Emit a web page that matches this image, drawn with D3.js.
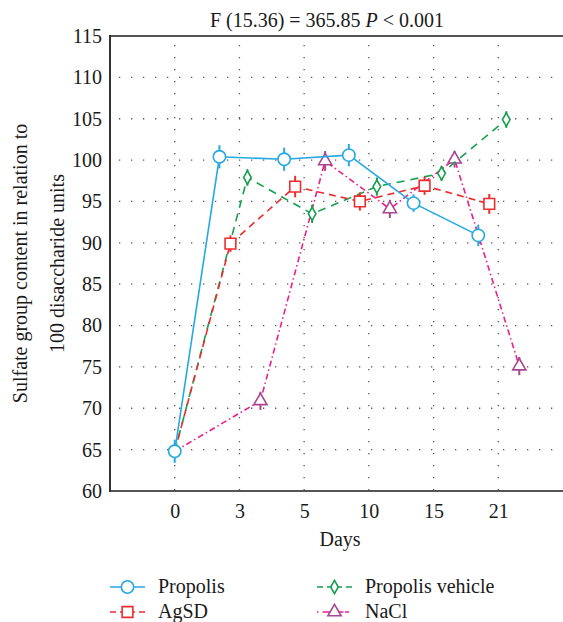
<!DOCTYPE html>
<html>
<head>
<meta charset="utf-8">
<script src="https://cdn.jsdelivr.net/npm/d3@7/dist/d3.min.js"></script>
<style>
  html, body { margin: 0; padding: 0; background: #fff; }
  svg { display: block; }
  text { font-family: "Liberation Serif", "Times New Roman", serif; fill: #1a1a1a; }
</style>
</head>
<body>
<svg id="chart" width="563" height="622"></svg>
<script>
// ---- data ----
const days = ["0", "3", "5", "10", "15", "21"];
const yTicks = [60, 65, 70, 75, 80, 85, 90, 95, 100, 105, 110, 115];
const propolis    = [64.8, 100.4, 100.1, 100.6, 94.8, 90.9];
const propolisErr = [1.4, 1.4, 1.4, 1.35, 1.05, 1.3];
const agsd        = [64.8, 89.9, 96.8, 95.0, 96.9, 94.7];
const agsdErr     = [1.4, 1.0, 1.3, 1.1, 1.1, 1.2];
const vehicle     = [64.8, 97.9, 93.5, 96.8, 98.4, 104.9];
const vehicleErr  = [1.4, 1.0, 1.1, 1.1, 0.9, 1.0];
const nacl        = [64.8, 70.9, 99.9, 94.1, 100.1, 75.1];
const naclErr     = [1.4, 1.1, 1.2, 1.1, 1.0, 1.1];
const seriesNames = ["Propolis", "AgSD", "Propolis vehicle", "NaCl"];
const titleText = "F (15.36) = 365.85 ";
const yLabel1 = "Sulfate group content in relation to";
const yLabel2 = "100 disaccharide units";
const xLabel = "Days";

// ---- layout / styles ----
const svg = d3.select("#chart");
const mLeft = 110, mRight = 563, mTop = 36, mBottom = 491;
const step = (mRight - mLeft) / 7;
const x = d3.scalePoint().domain(days).range([mLeft + step, mRight - step]);
const y = d3.scaleLinear().domain([60, 115]).range([mBottom, mTop]);
const FS = "20px";
const FF = '"Liberation Serif", "Times New Roman", serif';

const styles = [
  { name: seriesNames[0], vals: propolis, err: propolisErr, color: "#25A9E1", mcolor: "#25A9E1", dash: null, sym: d3.symbolCircle, size: 120, off: -20 },
  { name: seriesNames[1], vals: agsd, err: agsdErr, color: "#EC2D2D", mcolor: "#EC2D2D", dash: "7,5", sym: d3.symbolSquare, size: 115, off: -9 },
  { name: seriesNames[2], vals: vehicle, err: vehicleErr, color: "#14A04C", mcolor: "#14A04C", dash: "8,6", sym: d3.symbolDiamond, size: 50, off: 8 },
  { name: seriesNames[3], vals: nacl, err: naclErr, color: "#EA1E8E", mcolor: "#A8468F", dash: "6,3,1.5,3", sym: d3.symbolTriangle, size: 75, off: 21 }
];

// grid
const grid = svg.append("g");
yTicks.filter(t => t > 60 && t < 115).forEach(t => {
  grid.append("line").attr("x1", mLeft + 9).attr("x2", mRight).attr("y1", y(t)).attr("y2", y(t))
    .attr("stroke", "#555").attr("stroke-width", 1.3).attr("stroke-dasharray", "1.3,10.7");
});
days.forEach(d => {
  grid.append("line").attr("x1", x(d)).attr("x2", x(d)).attr("y1", mTop + 9).attr("y2", mBottom)
    .attr("stroke", "#555").attr("stroke-width", 1.3).attr("stroke-dasharray", "1.3,10.7");
});

// frame
svg.append("line").attr("x1", mLeft).attr("x2", mRight).attr("y1", mTop).attr("y2", mTop).attr("stroke", "#555").attr("stroke-width", 2);
svg.append("line").attr("x1", mLeft).attr("x2", mRight).attr("y1", mBottom).attr("y2", mBottom).attr("stroke", "#555").attr("stroke-width", 2);
svg.append("line").attr("x1", mLeft).attr("x2", mLeft).attr("y1", mTop - 1).attr("y2", mBottom + 1).attr("stroke", "#333").attr("stroke-width", 2);

// axes labels
const yAxis = d3.axisLeft(y).tickValues(yTicks).tickSize(0).tickPadding(8);
const ya = svg.append("g").attr("transform", `translate(${mLeft},0)`).call(yAxis);
ya.select(".domain").remove();
ya.selectAll("text").style("font-size", FS).style("font-family", FF).attr("fill", "#1a1a1a");

const xAxis = d3.axisBottom(x).tickValues(days).tickSize(0).tickPadding(13);
const xa = svg.append("g").attr("transform", `translate(0,${mBottom})`).call(xAxis);
xa.select(".domain").remove();
xa.selectAll("text").style("font-size", FS).style("font-family", FF).attr("fill", "#1a1a1a");

// title
const tt = svg.append("text").attr("x", 327).attr("y", 27).attr("text-anchor", "middle").style("font-size", FS);
tt.append("tspan").text(titleText);
tt.append("tspan").style("font-style", "italic").text("P");
tt.append("tspan").text(" < 0.001");

svg.append("text").attr("transform", `translate(27,${(mTop + mBottom) / 2}) rotate(-90)`).attr("text-anchor", "middle").style("font-size", FS).text(yLabel1);
svg.append("text").attr("transform", `translate(64,${(mTop + mBottom) / 2}) rotate(-90)`).attr("text-anchor", "middle").style("font-size", FS).text(yLabel2);
svg.append("text").attr("x", 340).attr("y", 546).attr("text-anchor", "middle").style("font-size", FS).text(xLabel);

// series
const px = (s, i) => x(days[i]) + (i === 0 ? 0 : s.off);
const drawOrder = [3, 2, 1, 0];
drawOrder.forEach(k => {
  const s = styles[k];
  const g = svg.append("g");
  const line = d3.line().x((d, i) => px(s, i)).y(d => y(d));
  g.append("path").datum(s.vals).attr("d", line).attr("fill", "none")
    .attr("stroke", s.color).attr("stroke-width", 1.6)
    .attr("stroke-dasharray", s.dash);
  s.vals.forEach((v, i) => {
    if (i === 0 && k !== 0) return;
    g.append("line").attr("x1", px(s, i)).attr("x2", px(s, i))
      .attr("y1", y(v - s.err[i])).attr("y2", y(v + s.err[i]))
      .attr("stroke", s.mcolor).attr("stroke-width", 2);
    g.append("path").attr("d", d3.symbol().type(s.sym).size(s.size)())
      .attr("transform", `translate(${px(s, i)},${y(v)})`)
      .attr("fill", "#fff").attr("stroke", s.mcolor).attr("stroke-width", 1.6);
  });
});

// legend
const legPos = [[110, 587], [110, 612], [317, 587], [317, 612]];
styles.forEach((s, k) => {
  const [lx, ly] = legPos[k];
  const g = svg.append("g").attr("transform", `translate(${lx},${ly})`);
  g.append("line").attr("x1", 0).attr("x2", 35).attr("y1", 0).attr("y2", 0)
    .attr("stroke", s.color).attr("stroke-width", 1.6).attr("stroke-dasharray", s.dash ? (k === 3 ? "1.5,4,9,3,9" : "6,4,15,4,6") : null);
  g.append("path").attr("d", d3.symbol().type(s.sym).size(s.size)())
    .attr("transform", "translate(17.5,0)").attr("fill", "#fff").attr("stroke", s.mcolor).attr("stroke-width", 1.6);
  g.append("text").attr("x", 48).attr("y", 6).style("font-size", FS).text(s.name);
});
</script>
</body>
</html>
